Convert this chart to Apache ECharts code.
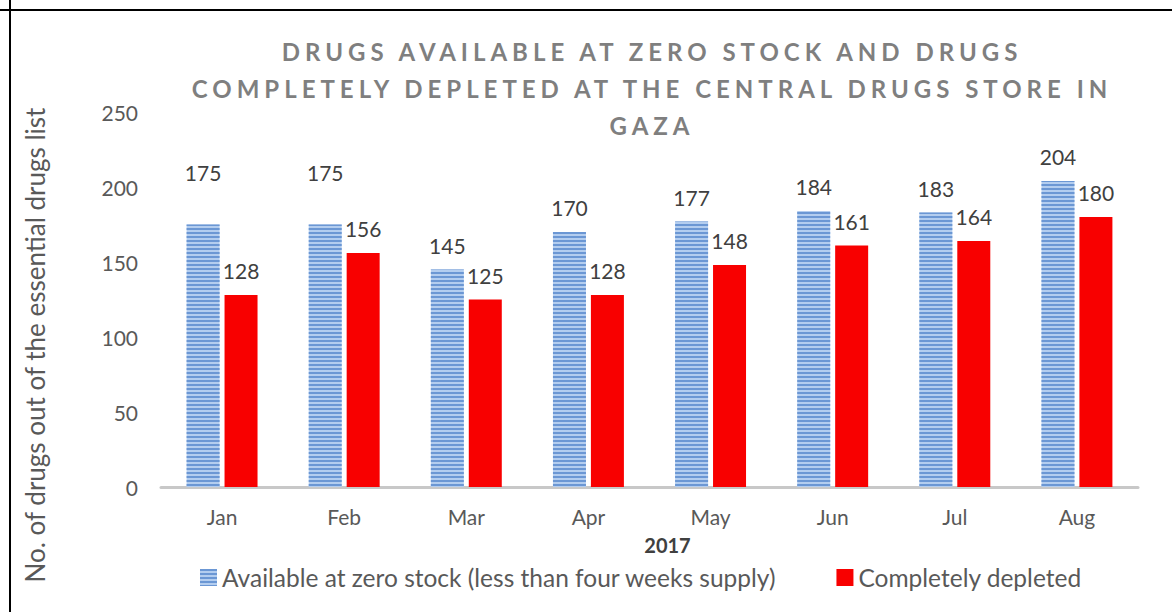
<!DOCTYPE html>
<html>
<head>
<meta charset="utf-8">
<script src="https://cdn.jsdelivr.net/npm/echarts@6/dist/echarts.min.js"></script>
<style>
  html, body { margin: 0; padding: 0; background: #fff; }
  #main { width: 1172px; height: 612px; }
  /* spaced-out title like the original */
  #main text[style*="24px"] { letter-spacing: 5px; }
</style>
</head>
<body>
<div id="main"></div>
<script>
var months = ['Jan', 'Feb', 'Mar', 'Apr', 'May', 'Jun', 'Jul', 'Aug'];
var zeroStock = [175, 175, 145, 170, 177, 184, 183, 204];
var depleted = [128, 156, 125, 128, 148, 161, 164, 180];
var yTicks = [0, 50, 100, 150, 200, 250];

var font = 'Lato, "Open Sans", sans-serif';

var myChart = echarts.init(document.getElementById('main'), null, {renderer: 'svg'});

// labels for Jan and Feb sit higher in the original
var blueData = zeroStock.map(function (v, i) {
    if (i < 2) return {value: v, label: {offset: [0, -28]}};
    return v;
});

option = {
    animation: false,
    backgroundColor: '#fff',
    textStyle: {fontFamily: font},
    grid: {left: 161, right: 34, top: 112, bottom: 125},
    graphic: [
        {type: 'line', shape: {x1: 10, y1: 0, x2: 10, y2: 612}, style: {stroke: '#000', lineWidth: 2}},
        {type: 'line', shape: {x1: 0, y1: 10, x2: 1172, y2: 10}, style: {stroke: '#000', lineWidth: 2}},
        {
            type: 'text', x: 652, y: 33,
            style: {
                text: 'DRUGS AVAILABLE AT ZERO STOCK AND DRUGS\nCOMPLETELY DEPLETED AT THE CENTRAL DRUGS STORE IN\nGAZA',
                fill: '#7f7f7f', font: 'bold 24px ' + font,
                textAlign: 'center', textVerticalAlign: 'top', lineHeight: 37
            }
        },
        {
            type: 'text', x: 35, y: 345, rotation: Math.PI / 2,
            style: {
                text: 'No. of drugs out of the essential drugs list',
                fill: '#595959', font: '26px ' + font,
                textAlign: 'center', textVerticalAlign: 'middle'
            }
        }
    ],
    legend: {
        left: 195, top: 560,
        icon: 'rect',
        itemWidth: 17, itemHeight: 17, itemGap: 60,
        textStyle: {fontSize: 24.5, color: '#595959', fontFamily: font}
    },
    xAxis: {
        type: 'category',
        data: months,
        name: '2017',
        nameLocation: 'middle',
        nameGap: 48,
        nameTextStyle: {fontSize: 20, fontWeight: 'bold', color: '#404040', padding: [0, 0, 0, 36]},
        axisLine: {lineStyle: {color: '#c8c8c8', width: 3}},
        axisTick: {show: false},
        axisLabel: {fontSize: 21, color: '#595959', margin: 19}
    },
    yAxis: {
        type: 'value',
        min: yTicks[0], max: yTicks[yTicks.length - 1], interval: 50,
        splitLine: {show: false},
        axisLine: {show: false},
        axisTick: {show: false},
        axisLabel: {fontSize: 21, color: '#595959', margin: 23}
    },
    series: [
        {
            name: 'Available at zero stock (less than four weeks supply)',
            type: 'bar',
            data: blueData,
            barWidth: 33,
            barGap: '15%',
            itemStyle: {
                color: '#b3cdef',
                decal: {
                    symbol: 'rect', symbolSize: 1,
                    dashArrayX: [1, 0], dashArrayY: [2, 1.6],
                    rotation: 0, color: '#6b97d4'
                }
            },
            label: {show: true, position: 'top', distance: 14, fontSize: 21, color: '#404040'}
        },
        {
            name: 'Completely depleted',
            type: 'bar',
            data: depleted,
            barWidth: 33,
            itemStyle: {color: '#f80000'},
            label: {show: true, position: 'top', distance: 14, fontSize: 21, color: '#404040'}
        }
    ]
};
myChart.setOption(option);
</script>
</body>
</html>
